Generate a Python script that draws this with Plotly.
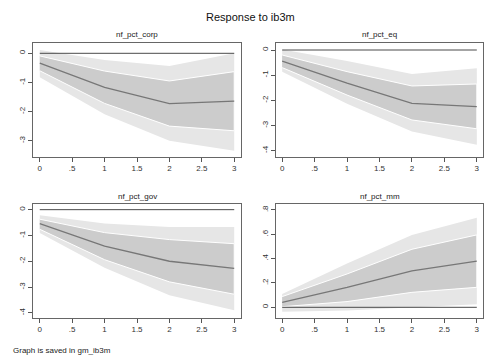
import plotly.graph_objects as go

steps = [0, 1, 2, 3]

panel_names = ["nf_pct_corp", "nf_pct_eq", "nf_pct_gov", "nf_pct_mm"]

corp_irf = [-0.34, -1.17, -1.73, -1.64]
corp_in_lo = [-0.60, -1.72, -2.50, -2.66]
corp_in_hi = [-0.09, -0.61, -0.95, -0.63]
corp_out_lo = [-0.82, -2.09, -3.00, -3.35]
corp_out_hi = [0.11, -0.23, -0.44, 0.00]

eq_irf = [-0.44, -1.32, -2.12, -2.25]
eq_in_lo = [-0.70, -1.79, -2.78, -3.13]
eq_in_hi = [-0.20, -0.86, -1.43, -1.35]
eq_out_lo = [-0.86, -2.14, -3.24, -3.77]
eq_out_hi = [0.02, -0.44, -0.95, -0.73]

gov_irf = [-0.54, -1.41, -2.00, -2.28]
gov_in_lo = [-0.76, -1.94, -2.80, -3.28]
gov_in_hi = [-0.37, -0.89, -1.16, -1.32]
gov_out_lo = [-0.90, -2.25, -3.32, -3.90]
gov_out_hi = [-0.22, -0.54, -0.67, -0.67]

mm_irf = [0.041, 0.164, 0.30, 0.38]
mm_in_lo = [0.005, 0.047, 0.123, 0.164]
mm_in_hi = [0.088, 0.274, 0.477, 0.595]
mm_out_lo = [-0.036, -0.027, 0.0, 0.025]
mm_out_hi = [0.11, 0.36, 0.595, 0.737]

x_tickvals = [0, 0.5, 1, 1.5, 2, 2.5, 3]
x_ticktext = ["0", ".5", "1", "1.5", "2", "2.5", "3"]

y_ticks = [
    ([0, -1, -2, -3], ["0", "-1", "-2", "-3"]),
    ([0, -1, -2, -3, -4], ["0", "-1", "-2", "-3", "-4"]),
    ([0, -1, -2, -3, -4], ["0", "-1", "-2", "-3", "-4"]),
    ([0, 0.2, 0.4, 0.6, 0.8], ["0", ".2", ".4", ".6", ".8"]),
]

series = [
    (corp_irf, corp_in_lo, corp_in_hi, corp_out_lo, corp_out_hi),
    (eq_irf, eq_in_lo, eq_in_hi, eq_out_lo, eq_out_hi),
    (gov_irf, gov_in_lo, gov_in_hi, gov_out_lo, gov_out_hi),
    (mm_irf, mm_in_lo, mm_in_hi, mm_out_lo, mm_out_hi),
]

W, H = 500, 364
# frames in pixels: (left, right, top, bottom)
frames = [
    (33.3, 240.7, 42.7, 156.7),
    (275.7, 483.3, 42.7, 156.7),
    (33.3, 240.7, 204.0, 317.7),
    (275.7, 483.3, 204.0, 317.7),
]
y_ranges = [
    [-3.55, 0.364],
    [-4.24, 0.29],
    [-4.19, 0.22],
    [-0.0855, 0.849],
]

fig = go.Figure()
layout = {}
annotations = []
for i in range(4):
    xa = "x" if i == 0 else f"x{i+1}"
    ya = "y" if i == 0 else f"y{i+1}"
    irf, in_lo, in_hi, out_lo, out_hi = series[i]
    # outer band
    fig.add_trace(go.Scatter(
        x=steps + steps[::-1], y=out_hi + out_lo[::-1],
        fill="toself", fillcolor="#e6e6e6", line=dict(width=0),
        mode="lines", hoverinfo="skip", showlegend=False, xaxis=xa, yaxis=ya))
    # inner band
    fig.add_trace(go.Scatter(
        x=steps + steps[::-1], y=in_hi + in_lo[::-1],
        fill="toself", fillcolor="#cccccc", line=dict(width=1, color="white"),
        mode="lines", hoverinfo="skip", showlegend=False, xaxis=xa, yaxis=ya))
    # zero line
    fig.add_trace(go.Scatter(
        x=[steps[0], steps[-1]], y=[0, 0], mode="lines",
        line=dict(color="#4a4a4a", width=1), showlegend=False, xaxis=xa, yaxis=ya))
    # irf
    fig.add_trace(go.Scatter(
        x=steps, y=irf, mode="lines",
        line=dict(color="#777777", width=1.3), showlegend=False, xaxis=xa, yaxis=ya))

    l, r, t, b = frames[i]
    axkey = "xaxis" if i == 0 else f"xaxis{i+1}"
    aykey = "yaxis" if i == 0 else f"yaxis{i+1}"
    layout[axkey] = dict(
        domain=[l / W, r / W], anchor=ya, range=[-0.1, 3.1],
        tickvals=x_tickvals, ticktext=x_ticktext, ticks="outside", ticklen=4,
        tickcolor="#555", showline=True, linecolor="#666", linewidth=1, mirror=True,
        showgrid=False, zeroline=False, tickfont=dict(size=8, color="#333"))
    layout[aykey] = dict(
        domain=[1 - b / H, 1 - t / H], anchor=xa, range=y_ranges[i],
        tickvals=y_ticks[i][0], ticktext=y_ticks[i][1], ticks="outside", ticklen=4,
        tickcolor="#555", showline=True, linecolor="#666", linewidth=1, mirror=True,
        showgrid=False, zeroline=False, tickangle=-90,
        tickfont=dict(size=8, color="#333"))
    annotations.append(dict(
        text=panel_names[i], xref="paper", yref="paper",
        x=(l + r) / 2 / W, y=1 - (t - 1.5) / H, xanchor="center", yanchor="bottom",
        showarrow=False, font=dict(size=8, color="#222")))

annotations.append(dict(
    text="Response to ib3m", xref="paper", yref="paper", x=250 / W, y=1 - 17 / H,
    xanchor="center", yanchor="middle", showarrow=False,
    font=dict(size=11, color="#111")))
annotations.append(dict(
    text="Graph is saved in gm_ib3m", xref="paper", yref="paper", x=11 / W, y=1 - 350 / H,
    xanchor="left", yanchor="middle", showarrow=False,
    font=dict(size=8, color="#222")))

fig.update_layout(
    width=W, height=H, margin=dict(l=0, r=0, t=0, b=0),
    paper_bgcolor="white", plot_bgcolor="white",
    font=dict(family="Liberation Sans, Arial, sans-serif"),
    annotations=annotations, **layout)

fig.write_html("out.html", config={"displayModeBar": False},
               post_script="document.body.style.margin='0';")
